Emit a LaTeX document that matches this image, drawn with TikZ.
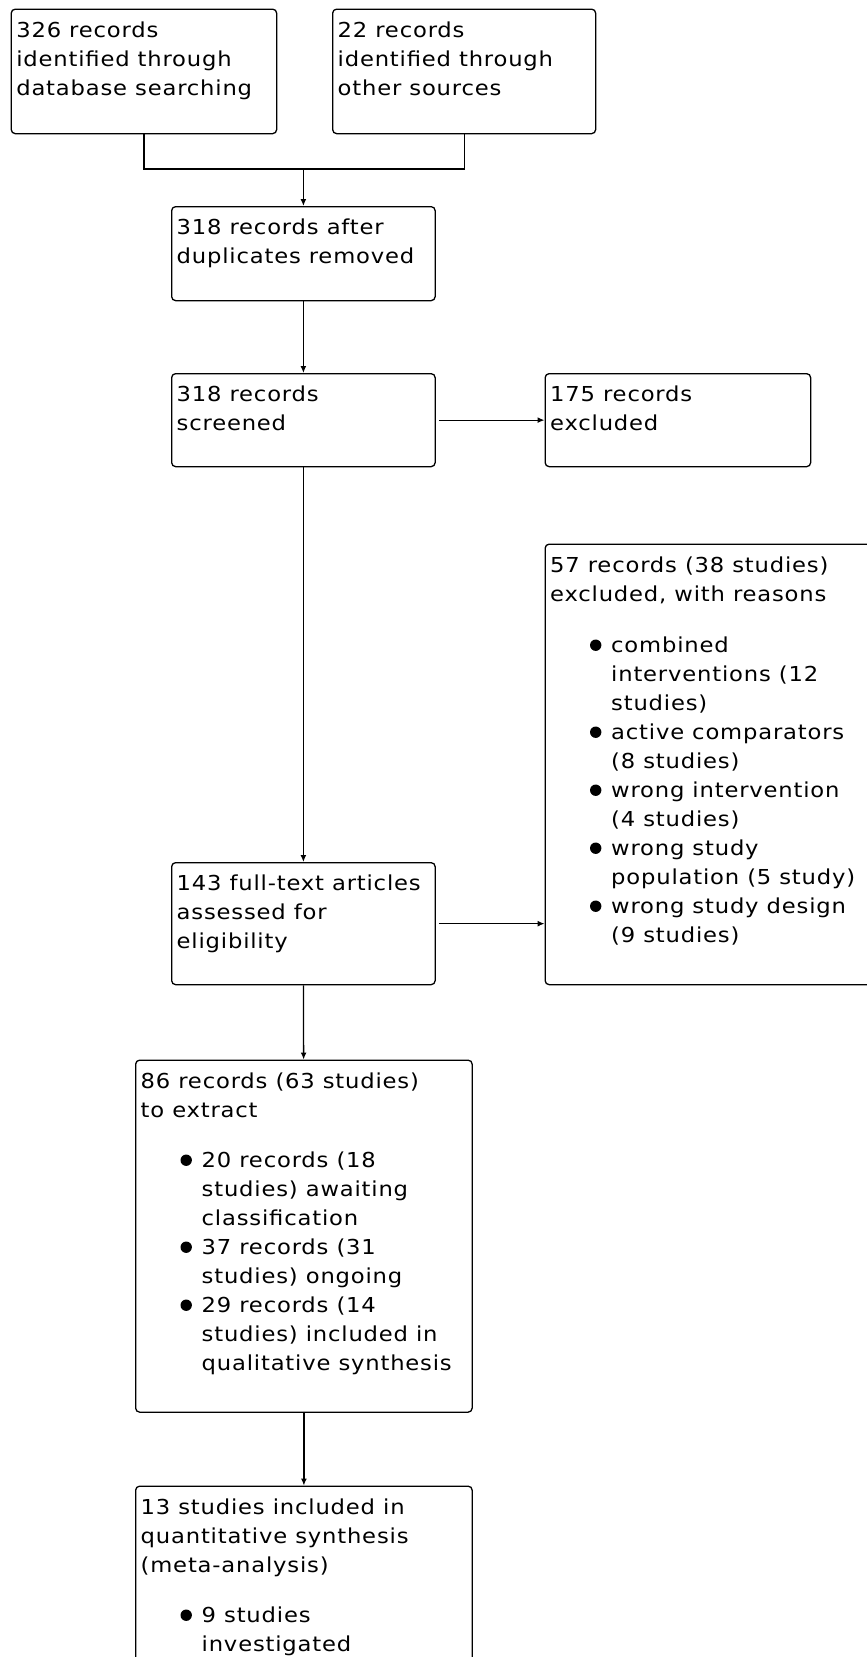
\documentclass[tikz,border=0pt]{standalone}
\usepackage{fontspec}
\setmainfont{DejaVu Sans}[FakeStretch=1.1, LetterSpace=4]
\usetikzlibrary{arrows.meta,positioning,calc}

\newcommand{\dotbul}{\tikz[baseline=0pt]\fill[black] (0pt,7pt) circle[radius=5.7pt];}
\newcommand{\bl}{\hspace*{45.5pt}\makebox[0pt]{\dotbul}\hspace*{15.5pt}}
\newcommand{\ind}{\hspace*{61pt}}
\newcommand{\fl}{\rule{0pt}{20pt}}

\begin{document}
\begin{tikzpicture}[
    x=1pt, y=-1pt,
    box/.style={rectangle, draw=black, line width=1.3pt, rounded corners=4pt, inner sep=0pt, anchor=north west},
    txt/.style={anchor=north west, inner sep=0pt, align=left, font=\fontsize{20.6}{29}\selectfont},
    line/.style={draw=black, line width=1.3pt},
    arrow/.style={line, -{Latex[length=7pt,width=6pt]}}
]
\useasboundingbox (0,0) rectangle (867,1657);
\fill[white] (0,0) rectangle (867,1657);
\clip (0,0) rectangle (867,1657);

% Identification
\node[box, minimum width=265.4pt, minimum height=124.5pt] (db) at (10.6,8.5) {};
\node[box, minimum width=263pt, minimum height=124.5pt] (other) at (332,8.5) {};
\node[txt] (dbtext) at ($(db.north west)+(5.5,8.5)$) {\fl 326 records\\identified through\\database searching};
\node[txt] (othertext) at ($(other.north west)+(5.5,8.5)$) {\fl 22 records\\identified through\\other sources};

% Screening
\node[box, minimum width=263.5pt, minimum height=94pt] (dup) at (171,206) {};
\node[txt] (duptext) at ($(dup.north west)+(5.5,8.5)$) {\fl 318 records after\\duplicates removed};

\node[box, minimum width=263.5pt, minimum height=93pt] (screened) at (171,373) {};
\node[txt] (screenedtext) at ($(screened.north west)+(5.5,8.5)$) {\fl 318 records\\screened};

\node[box, minimum width=265.5pt, minimum height=93pt] (excluded) at (544.5,373) {};
\node[txt] (excludedtext) at ($(excluded.north west)+(5.5,8.5)$) {\fl 175 records\\excluded};

% Eligibility
\node[box, minimum width=336pt, minimum height=440.5pt] (reasons) at (544.5,543.5) {};
\node[txt] (reasonstext) at ($(reasons.north west)+(5.5,8.5)$) {\fl 57 records (38 studies)\\excluded, with reasons\\[22pt]
  \bl combined\\ \ind interventions (12\\ \ind studies)\\
  \bl active comparators\\ \ind (8 studies)\\
  \bl wrong intervention\\ \ind (4 studies)\\
  \bl wrong study\\ \ind population (5 study)\\
  \bl wrong study design\\ \ind (9 studies)};

\node[box, minimum width=263.5pt, minimum height=122pt] (fulltext) at (171,862) {};
\node[txt] (fulltexttext) at ($(fulltext.north west)+(5.5,8.5)$) {\fl 143 full-text articles\\assessed for\\eligibility};

% Included
\node[box, minimum width=336.5pt, minimum height=352pt] (extract) at (135,1059.5) {};
\node[txt] (extracttext) at ($(extract.north west)+(5.5,8.5)$) {\fl 86 records (63 studies)\\to extract\\[21pt]
  \bl 20 records (18\\ \ind studies) awaiting\\ \ind classification\\
  \bl 37 records (31\\ \ind studies) ongoing\\
  \bl 29 records (14\\ \ind studies) included in\\ \ind qualitative synthesis};

\node[box, minimum width=336.5pt, minimum height=300pt] (meta) at (135,1485.5) {};
\node[txt] (metatext) at ($(meta.north west)+(5.5,8.5)$) {\fl 13 studies included in\\quantitative synthesis\\(meta-analysis)\\[21pt]
  \bl 9 studies\\ \ind investigated};

% Arrows
\coordinate (join) at (dup.north |- 0,169);
\draw[line] (db.south) |- (join);
\draw[line] (other.south) |- (join);
\draw[arrow] (join) -- (dup.north);
\draw[arrow] (dup) -- (screened);
\draw[arrow, shorten <=3pt] (screened) -- (excluded);
\draw[arrow] (screened) -- (fulltext);
\draw[arrow, shorten <=3pt] (fulltext.east) -- (fulltext.east -| reasons.west);
\draw[arrow] (fulltext) -- (extract);
\draw[arrow] (extract) -- (meta);

\end{tikzpicture}
\end{document}
